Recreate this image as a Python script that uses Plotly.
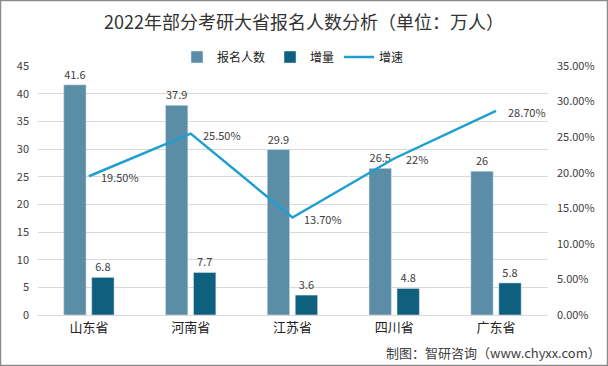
import plotly.graph_objects as go

provinces = ["山东省", "河南省", "江苏省", "四川省", "广东省"]
applicants = [41.6, 37.9, 29.9, 26.5, 26]
increase = [6.8, 7.7, 3.6, 4.8, 5.8]
growth = [0.195, 0.255, 0.137, 0.22, 0.287]
growth_labels = ["19.50%", "25.50%", "13.70%", "22%", "28.70%"]

FONT = "Noto Sans CJK SC, Microsoft YaHei, sans-serif"
TXT = "#404040"

fig = go.Figure()
fig.add_trace(go.Bar(
    x=provinces, y=applicants, name="报名人数",
    marker_color="#5b8ea6",
    text=[str(v) for v in applicants], textposition="outside",
    textfont=dict(size=11, color=TXT), cliponaxis=False,
))
fig.add_trace(go.Bar(
    x=provinces, y=increase, name="增量",
    marker_color="#0f5f7f",
    text=[str(v) for v in increase], textposition="outside",
    textfont=dict(size=11, color=TXT), cliponaxis=False,
))
fig.add_trace(go.Scatter(
    x=provinces, y=growth, name="增速", yaxis="y2", mode="lines",
    line=dict(color="#1f9fd0", width=2.5),
))
for p, g, lab in zip(provinces, growth, growth_labels):
    fig.add_annotation(x=p, y=g, yref="y2", text=lab, showarrow=False,
                       xanchor="left", yanchor="middle", xshift=10, yshift=-1,
                       font=dict(size=11, color=TXT, family=FONT))

fig.add_annotation(xref="paper", yref="paper", x=(603 - 38) / 510, y=-(352 - 315) / 249,
                   text="制图：智研咨询（www.chyxx.com）", showarrow=False,
                   xanchor="right", yanchor="middle",
                   font=dict(size=13, color=TXT, family=FONT))

fig.add_shape(type="rect", xref="paper", yref="paper",
              x0=-37.5 / 510, x1=(607.5 - 38) / 510,
              y0=-(50.5) / 249, y1=1 + 65.5 / 249,
              line=dict(color="#8c8c8c", width=1.5), layer="below")

fig.update_layout(
    width=608, height=366,
    margin=dict(l=38, r=60, t=66, b=51),
    paper_bgcolor="white", plot_bgcolor="white",
    font=dict(family=FONT, color=TXT, size=11),
    title=dict(text="2022年部分考研大省报名人数分析（单位：万人）",
               x=0.5, xanchor="center", y=1 - 23 / 366, yanchor="middle",
               font=dict(size=18, color="#333333", family=FONT)),
    barmode="group", bargap=0.45, bargroupgap=0.2,
    showlegend=True,
    legend=dict(orientation="h", x=0.5, xanchor="center", y=1 + 9 / 249, yanchor="middle",
                font=dict(size=12, color="#222222"), itemwidth=30,
                bgcolor="rgba(0,0,0,0)"),
    xaxis=dict(showgrid=False, showline=True, linecolor="#d9d9d9", ticks="",
               tickfont=dict(size=13, color="#222222")),
    yaxis=dict(range=[0, 45], dtick=5, showgrid=True, gridcolor="#d9d9d9",
               zeroline=False, ticks="", tickfont=dict(size=11, color=TXT),
               ticklabelstandoff=8),
    yaxis2=dict(range=[0, 0.35], dtick=0.05, overlaying="y", side="right",
                showgrid=False, zeroline=False, tickformat=".2%",
                tickfont=dict(size=11, color=TXT), ticklabelstandoff=8),
)

fig.write_html("out.html", config={"displayModeBar": False},
               post_script="document.body.style.margin='0';")
